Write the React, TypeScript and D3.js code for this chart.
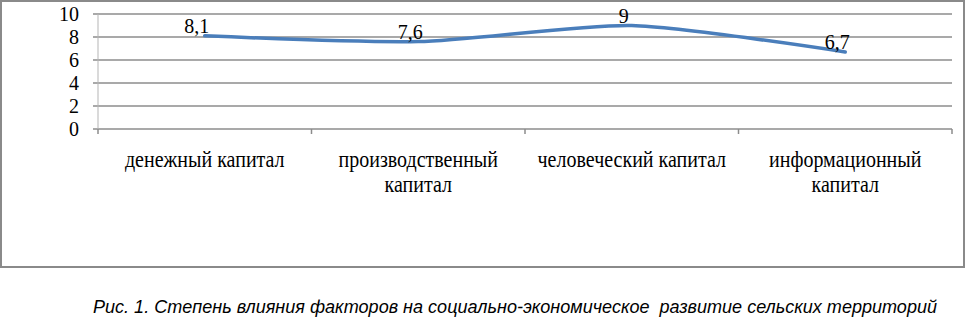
import { useEffect, useRef } from "react";
import * as d3 from "d3";

const categories = [
  "денежный капитал",
  "производственный капитал",
  "человеческий капитал",
  "информационный капитал",
];
// how Excel wrapped the category labels
const categoryLines = [
  ["денежный капитал"],
  ["производственный", "капитал"],
  ["человеческий капитал"],
  ["информационный", "капитал"],
];
const values = [8.1, 7.6, 9, 6.7];
const valueLabels = ["8,1", "7,6", "9", "6,7"];
const yTicks = [0, 2, 4, 6, 8, 10];
const caption =
  "Рис. 1. Степень влияния факторов на социально-экономическое  развитие сельских территорий";

const SERIF = "Liberation Serif, Times New Roman, serif";
const STRETCH = 1.2; // the scan is a bit stretched vertically

const App = () => {
  const ref = useRef<SVGSVGElement>(null);

  useEffect(() => {
    const width = 966;
    const height = 324;
    const margin = { top: 14, right: 14, bottom: 195, left: 98 };

    const svg = d3.select(ref.current);
    svg.selectAll("*").remove();
    svg.attr("width", width).attr("height", height);

    // рамка диаграммы
    svg.append("rect")
      .attr("x", 1)
      .attr("y", 1)
      .attr("width", 963)
      .attr("height", 266)
      .attr("fill", "#fff")
      .attr("stroke", "#8a8a8a")
      .attr("stroke-width", 2);

    const x = d3.scaleBand()
      .domain(categories)
      .range([margin.left, width - margin.right]);

    const y = d3.scaleLinear()
      .domain([0, 10])
      .range([height - margin.bottom, margin.top]);

    // сетка
    svg.append("g")
      .selectAll("line")
      .data(yTicks)
      .enter()
      .append("line")
      .attr("x1", margin.left - 5)
      .attr("x2", width - margin.right)
      .attr("y1", d => y(d))
      .attr("y2", d => y(d))
      .attr("stroke", "#8c8c8c")
      .attr("stroke-width", 1.6);

    // ось Y
    svg.append("line")
      .attr("x1", margin.left)
      .attr("x2", margin.left)
      .attr("y1", y(10))
      .attr("y2", y(0))
      .attr("stroke", "#b5b5b5")
      .attr("stroke-width", 1);

    svg.append("g")
      .selectAll("text")
      .data(yTicks)
      .enter()
      .append("text")
      .attr("x", margin.left - 19)
      .attr("y", d => y(d) + 7)
      .attr("text-anchor", "end")
      .attr("font-family", SERIF)
      .attr("font-size", 20)
      .text(d => d);

    // деления оси X
    const xTicks = [...categories.map(c => x(c)), x.range()[1]];
    svg.append("g")
      .selectAll("line")
      .data(xTicks)
      .enter()
      .append("line")
      .attr("x1", d => d)
      .attr("x2", d => d)
      .attr("y1", y(0))
      .attr("y2", y(0) + 5)
      .attr("stroke", "#8c8c8c")
      .attr("stroke-width", 1.5);

    // подписи категорий
    const cat = svg.append("g")
      .selectAll("text")
      .data(categoryLines)
      .enter()
      .append("text")
      .attr("transform", (_, i) =>
        `translate(${x(categories[i]) + x.bandwidth() / 2},167) scale(1,${STRETCH})`)
      .attr("text-anchor", "middle")
      .attr("font-family", SERIF)
      .attr("font-size", 20);
    cat.selectAll("tspan")
      .data(d => d)
      .enter()
      .append("tspan")
      .attr("x", 0)
      .attr("dy", (_, i) => (i === 0 ? 0 : 25 / STRETCH))
      .text(d => d);

    // линия
    const line = d3.line<number>()
      .x((_, i) => x(categories[i]) + x.bandwidth() / 2)
      .y(d => y(d))
      .curve(d3.curveCardinal.tension(0.3));

    svg.append("path")
      .datum(values)
      .attr("d", line)
      .attr("fill", "none")
      .attr("stroke", "#4a7ebb")
      .attr("stroke-width", 3.5)
      .attr("stroke-linecap", "round");

    // подписи значений
    svg.append("g")
      .selectAll("text")
      .data(values)
      .enter()
      .append("text")
      .attr("x", (_, i) => x(categories[i]) + x.bandwidth() / 2 - 8)
      .attr("y", d => y(d) - 3)
      .attr("text-anchor", "middle")
      .attr("font-family", SERIF)
      .attr("font-size", 20)
      .text((_, i) => valueLabels[i]);

    // подпись рисунка
    svg.append("text")
      .attr("x", 93)
      .attr("y", 313)
      .attr("font-family", "Liberation Sans Narrow, Arial Narrow, Liberation Sans, sans-serif")
      .attr("font-style", "italic")
      .attr("font-size", 18)
      .attr("textLength", 844)
      .attr("lengthAdjust", "spacingAndGlyphs")
      .style("white-space", "pre")
      .text(caption);
  }, []);

  return (
    <svg
      ref={ref}
      style={{ position: "absolute", left: 0, top: 0, display: "block" }}
    />
  );
};

export default App;
